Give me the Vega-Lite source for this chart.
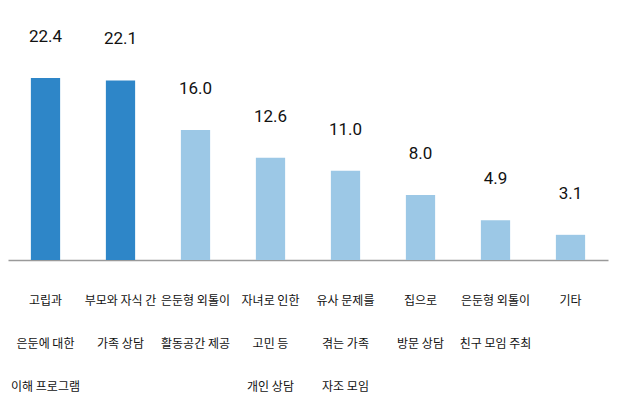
{
  "$schema": "https://vega.github.io/schema/vega-lite/v6.json",
  "width": 600,
  "height": 260,
  "padding": {"left": 8, "right": 12, "top": 0, "bottom": 0},
  "background": "white",
  "config": {"view": {"stroke": null}},
  "data": {
    "values": [
      {"label": "고립과\n은둔에 대한\n이해 프로그램", "value": 22.4},
      {"label": "부모와 자식 간\n가족 상담", "value": 22.1},
      {"label": "은둔형 외톨이\n활동공간 제공", "value": 16.0},
      {"label": "자녀로 인한\n고민 등\n개인 상담", "value": 12.6},
      {"label": "유사 문제를\n겪는 가족\n자조 모임", "value": 11.0},
      {"label": "집으로\n방문 상담", "value": 8.0},
      {"label": "은둔형 외톨이\n친구 모임 주최", "value": 4.9},
      {"label": "기타", "value": 3.1}
    ]
  },
  "encoding": {
    "x": {
      "field": "label",
      "type": "nominal",
      "sort": null,
      "scale": {"paddingInner": 0.61, "paddingOuter": 0.305},
      "axis": {
        "title": null,
        "labelAngle": 0,
        "labelExpr": "split(datum.label, '\\n')",
        "labelFont": "Noto Sans CJK KR",
        "labelFontSize": 12,
        "labelColor": "#111111",
        "labelLineHeight": 43,
        "labelBaseline": "top",
        "labelPadding": 35,
        "labelLimit": 0,
        "ticks": false,
        "domainColor": "#9a9a9a",
        "domainWidth": 1.5,
        "grid": false
      }
    },
    "y": {
      "field": "value",
      "type": "quantitative",
      "scale": {"domain": [0, 32], "nice": false},
      "axis": null
    }
  },
  "layer": [
    {
      "mark": {"type": "bar"},
      "encoding": {
        "color": {
          "condition": {"test": "datum.value > 20", "value": "#2e86c8"},
          "value": "#9cc8e6"
        }
      }
    },
    {
      "mark": {
        "type": "text",
        "baseline": "bottom",
        "dy": -32,
        "font": "Roboto",
        "fontSize": 17,
        "color": "#111111"
      },
      "encoding": {
        "text": {"field": "value", "type": "quantitative", "format": ".1f"}
      }
    }
  ]
}
